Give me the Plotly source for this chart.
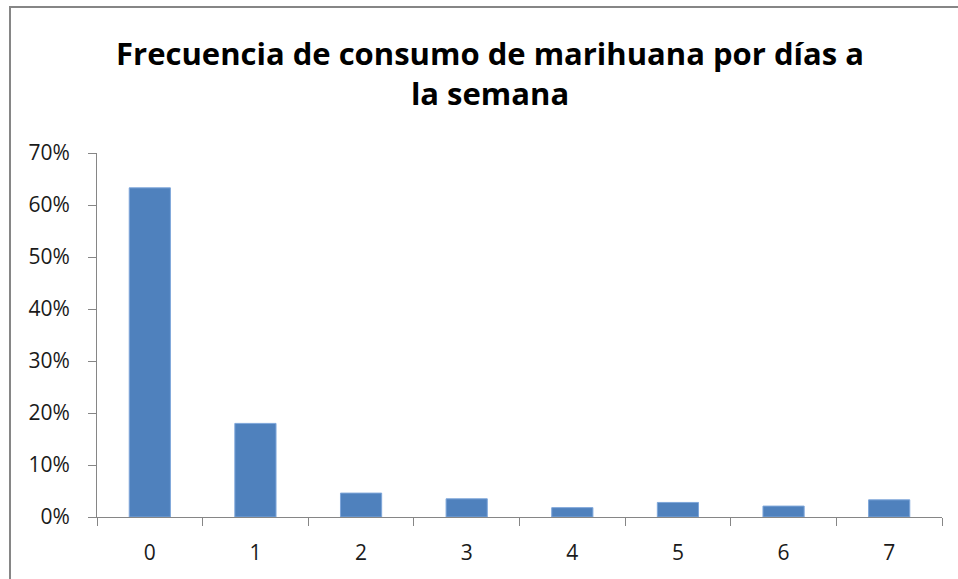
import plotly.graph_objects as go

categories = ["0", "1", "2", "3", "4", "5", "6", "7"]
values = [0.633, 0.180, 0.046, 0.035, 0.018, 0.028, 0.021, 0.033]
title_text = "Frecuencia de consumo de marihuana por días a<br>la semana"

W, H = 958, 579
L, R, T, B = 97, 16, 153, 62
pw, ph = W - L - R, H - T - B

fig = go.Figure(go.Bar(
    x=categories, y=values,
    marker=dict(color="#4F81BD", line=dict(color="#7EA6DA", width=1)),
))

fig.update_layout(
    width=W, height=H,
    margin=dict(l=L, r=R, t=T, b=B),
    paper_bgcolor="white", plot_bgcolor="white",
    bargap=0.61,
    showlegend=False,
    title=dict(text=title_text, x=490 / W, xanchor="center", xref="container",
               y=1 - 65 / H, yanchor="middle", yref="container",
               font=dict(family="Open Sans", size=31, color="#000000", weight="bold")),
    font=dict(family="Open Sans", size=21, color="#1a1a1a"),
    xaxis=dict(type="category", tickson="boundaries", ticks="outside", ticklen=8,
               tickcolor="#868686", showline=True, linecolor="#868686", linewidth=1,
               showgrid=False, ticklabelstandoff=17, fixedrange=True),
    yaxis=dict(range=[0, 0.7], dtick=0.1, tickformat=".0%", ticks="outside", ticklen=8,
               tickcolor="#868686", showline=True, linecolor="#868686", linewidth=1,
               showgrid=False, zeroline=False, ticklabelstandoff=14),
    shapes=[dict(type="rect", xref="paper", yref="paper",
                 x0=(10 - L) / pw, x1=(W + 5 - L) / pw,
                 y0=-(H + 5 - T - ph) / ph, y1=1 + (T - 7) / ph,
                 line=dict(color="#868686", width=2), layer="below")],
)

fig.write_html("out.html")
